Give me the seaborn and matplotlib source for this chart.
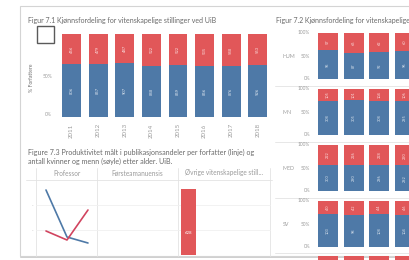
import matplotlib
matplotlib.use('Agg')
import matplotlib.pyplot as plt
from matplotlib.patches import Rectangle
import seaborn as sns
import pandas as pd

# --- data ---
years = ['2011', '2012', '2013', '2014', '2015', '2016', '2017', '2018']
women_71 = [456, 479, 487, 522, 522, 535, 548, 553]
men_71 = [806, 857, 907, 848, 859, 856, 876, 926]

faculties = ['HUM', 'MN', 'MED', 'SV', 'PSY']
years_72 = ['2011', '2012', '2013', '2014']
women_hum = [57, 66, 62, 60]
men_hum = [95, 87, 92, 96]
women_mn = [105, 101, 104, 106]
men_mn = [308, 305, 308, 295]
women_med = [222, 226, 228, 230]
men_med = [300, 290, 296, 292]
women_sv = [40, 42, 44, 46]
men_sv = [103, 98, 108, 104]
women_psy = [60, 62, 64, 66]
men_psy = [40, 41, 42, 42]

age_groups = ['<45', '45-59', '60+']
prof_men = [2.6, 0.72, 0.48]
prof_women = [0.96, 0.6, 1.8]
ovrige_age = ['<45']
ovrige_women = [628]

W, H = 410, 260
BLUE = '#4e79a7'
RED = '#e15759'
GREY = '#9a9a9a'
TITLE = '#6a6a6a'
LINE = '#e3e3e3'

sns.set_theme(style='white')
plt.rcParams['font.family'] = ['Lato', 'DejaVu Sans']

fig = plt.figure(figsize=(W / 100, H / 100), dpi=100)
fig.patch.set_facecolor('white')


def box(x0, y0, x1, y1):
    ax = fig.add_axes([x0 / W, 1 - y1 / H, (x1 - x0) / W, (y1 - y0) / H])
    ax.patch.set_alpha(0)
    for s in ax.spines.values():
        s.set_visible(False)
    return ax


def txt(x, y, s, **kw):
    kw.setdefault('color', GREY)
    kw.setdefault('fontsize', 3.6)
    fig.text(x / W, 1 - y / H, s, **kw)


def hline(y, x0, x1, color=LINE):
    fig.add_artist(plt.Line2D([x0 / W, x1 / W], [1 - y / H, 1 - y / H], color=color, lw=0.6, zorder=-5))


def vline(x, y0, y1, color=LINE):
    fig.add_artist(plt.Line2D([x / W, x / W], [1 - y0 / H, 1 - y1 / H], color=color, lw=0.6, zorder=-5))


def stacked(ax, cats, women, men, width, fs):
    df = pd.DataFrame({'cat': cats, 'w': women, 'm': men})
    df['tot'] = 1.0
    df['share'] = df['m'] / (df['m'] + df['w'])
    sns.barplot(data=df, x='cat', y='tot', color=RED, width=width, saturation=1, linewidth=0, ax=ax)
    sns.barplot(data=df, x='cat', y='share', color=BLUE, width=width, saturation=1, linewidth=0, ax=ax)
    if fs:
        for i, r in df.iterrows():
            ax.text(i, r['share'] / 2, str(r['m']), rotation=90, color='white',
                    fontsize=fs, ha='center', va='center', alpha=0.8)
            ax.text(i, (1 + r['share']) / 2, str(r['w']), rotation=90, color='white',
                    fontsize=fs, ha='center', va='center', alpha=0.8)
    ax.set_ylim(0, 1)
    ax.set_xlabel('')
    ax.set_ylabel('')
    ax.set_yticks([])


# card outline
fig.add_artist(Rectangle((20 / W, 1 - 256 / H), 400 / W, 250 / H, transform=fig.transFigure,
                         fill=False, ec='#d4d4d4', lw=0.8, zorder=-6))
hline(256.5, 20, 410, color='#c8c8c8')

# --- Figur 7.1 ---
txt(28, 21, 'Figur 7.1 Kjønnsfordeling for vitenskapelige stillinger ved UiB',
    va='center', color=TITLE, fontsize=5.0)
fig.add_artist(Rectangle((37.5 / W, 1 - 43 / H), 17 / W, 17 / H, transform=fig.transFigure,
                         fill=False, ec='#5a5a5a', lw=1.0))
ax1 = box(58, 34, 270, 117)
stacked(ax1, years, women_71, men_71, 0.71, 3.0)
ax1.set_xlim(-0.51, 7.46)
ax1.tick_params(axis='x', length=0, pad=4.5, labelsize=4.4, labelcolor=GREY, labelrotation=90)
txt(52, 76, '50%', ha='right', va='center', fontsize=3.6)
txt(52, 115, '0%', ha='right', va='center', fontsize=3.6)
txt(32, 78, '% Forfattere', rotation=90, ha='center', va='center', fontsize=3.7, color='#707070')

# --- Figur 7.3 ---
txt(28, 152, 'Figure 7.3 Produktivitet målt i publikasjonsandeler per forfatter (linje) og',
    va='center', fontsize=5.1, color=TITLE)
txt(28, 161, 'antall kvinner og menn (søyle) etter alder. UiB.', va='center', fontsize=5.1, color=TITLE)
for x in [36, 97, 178, 270]:
    vline(x, 168, 256)
hline(180, 26, 272)
for y in [205, 230]:
    hline(y, 36, 270, color='#f0f0f0')
txt(66.5, 173, 'Professor', ha='center', va='center', fontsize=4.7)
txt(137.5, 173, 'Førsteamanuensis', ha='center', va='center', fontsize=4.7)
txt(224, 173, 'Øvrige vitenskapelige still...', ha='center', va='center', fontsize=4.7)
txt(32, 206, '-', ha='center', va='center', fontsize=3)
txt(32, 231, '-', ha='center', va='center', fontsize=3)

lines = pd.DataFrame({'age': age_groups * 2,
                      'val': prof_men + prof_women,
                      'kjonn': ['Menn'] * 3 + ['Kvinner'] * 3})
ax3 = box(36, 180, 97, 255)
sns.lineplot(data=lines, x='age', y='val', hue='kjonn', palette={'Menn': BLUE, 'Kvinner': '#d1445f'},
             lw=1.2, legend=False, ax=ax3)
ax3.set_xlim(-0.476, 2.43)
ax3.set_ylim(0, 3)
ax3.axis('off')

ax4 = box(178, 180, 270, 255)
bars = pd.DataFrame({'age': ovrige_age, 'n': ovrige_women})
sns.barplot(data=bars, x='age', y='n', color=RED, width=0.72, saturation=1, linewidth=0, ax=ax4)
ax4.set_xlim(-0.5, 3.88)
ax4.set_ylim(0, 714)
ax4.axis('off')
ax4.text(0, 210, '628', color='white', fontsize=3.2, ha='center', va='center')

# --- Figur 7.2 ---
txt(276, 21, 'Figur 7.2 Kjønnsfordeling for vitenskapelige',
    va='center', color=TITLE, fontsize=5.0)
women_72 = [women_hum, women_mn, women_med, women_sv, women_psy]
men_72 = [men_hum, men_mn, men_med, men_sv, men_psy]
tops = [33, 89, 145, 201, 256]
for fac, w, m, top in zip(faculties, women_72, men_72, tops):
    bottom = top + 46
    last = top > H - 10
    ax = box(312, top, 420, bottom)
    stacked(ax, years_72, w, m, 0.78, None if last else 2.8)
    ax.set_xlim(-0.62, 3.58)
    ax.set_xticks([])
    if top > 33:
        hline(top - 3, 275, 410)
    if last:
        continue
    txt(310, top, '100%', ha='right', va='center', fontsize=3.4)
    txt(310, (top + bottom) / 2, '50%', ha='right', va='center', fontsize=3.4)
    txt(310, bottom, '0%', ha='right', va='center', fontsize=3.4)
    txt(283, (top + bottom) / 2, fac, ha='left', va='center', fontsize=3.8)

fig.savefig('out.png', dpi=100, facecolor='white')
